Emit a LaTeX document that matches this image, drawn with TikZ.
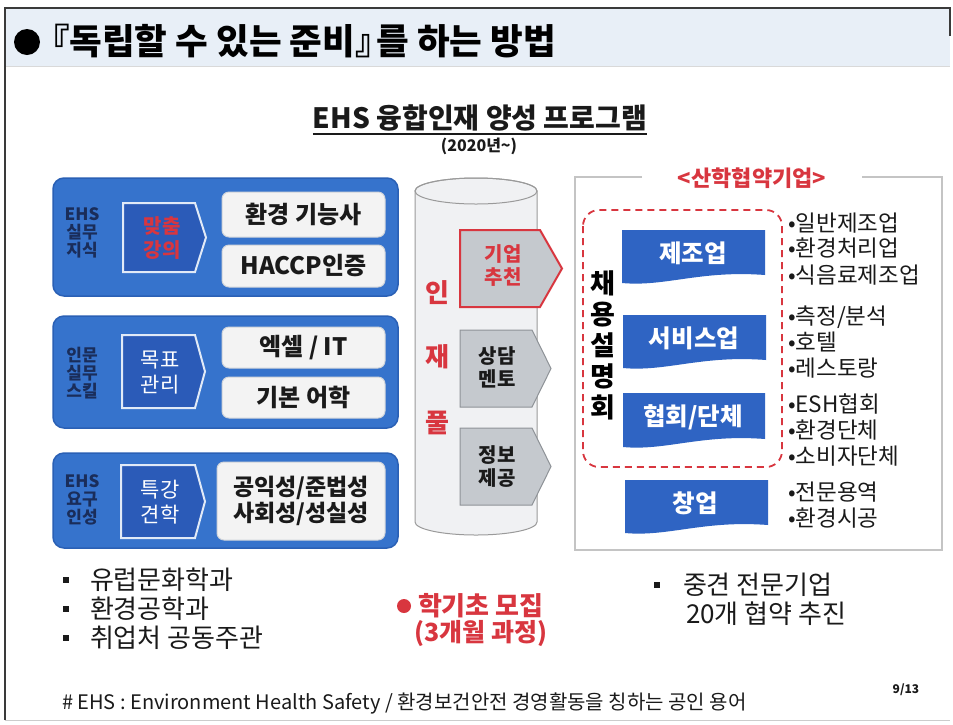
\documentclass[tikz,border=0pt]{standalone}
\usepackage{fontspec}
\setmainfont{Noto Sans CJK KR}
\usetikzlibrary{calc}
\definecolor{hdrband}{HTML}{E8EFF7}
\definecolor{framecol}{HTML}{3A3A3A}
\definecolor{panelblue}{HTML}{3673CC}
\definecolor{paneledge}{HTML}{2A60B5}
\definecolor{arrowblue}{HTML}{2B5BB8}
\definecolor{wbox}{HTML}{F3F3F3}
\definecolor{wedge}{HTML}{D0D4DA}
\definecolor{navy}{HTML}{1A2D5A}
\definecolor{cylfill}{HTML}{F0F1F3}
\definecolor{cyledge}{HTML}{9A9A9A}
\definecolor{pentfill}{HTML}{C5C9CE}
\definecolor{pentedge}{HTML}{8E9297}
\definecolor{redtxt}{HTML}{D8363F}
\definecolor{bannerblue}{HTML}{2F64C3}
\definecolor{rframe}{HTML}{C4C4C4}
\definecolor{txt}{HTML}{1A1A1A}
\newcommand\fsz[1]{\fontsize{#1}{#1}\selectfont}
\tikzset{
  panel/.style={fill=panelblue, draw=paneledge, line width=1.5pt, rounded corners=11pt},
  chev/.style={fill=arrowblue, draw=white!85!panelblue, line width=2pt},
  wboxst/.style={fill=wbox, draw=wedge, line width=1pt, rounded corners=7pt},
  pent/.style={fill=pentfill, draw=pentedge, line width=1pt},
  lbl/.style={font=\bfseries\fsz{17}, text=navy, align=center},
  wtxt/.style={font=\bfseries\fsz{24}, text=txt, align=center},
  chevtxt/.style={font=\fsz{21}, text=white, align=center},
  penttxt/.style={font=\bfseries\fsz{20}, text=txt, align=center},
  bantxt/.style={font=\bfseries\fsz{24.5}, text=white},
  rlist/.style={font=\fsz{22.5}, text=txt, anchor=west},
  blist/.style={font=\fsz{26}, text=txt, anchor=west},
  sq/.style={fill=txt, minimum size=6pt, inner sep=0pt},
}
\newcommand\mybanner[4]{%
  \fill[bannerblue] (#1,#2) -- (#3,#2) -- (#3,#4-8)
    .. controls ($(#1,#4)!0.55!(#3,#4)+(0,-13)$) and ($(#1,#4)!0.3!(#3,#4)+(0,4)$) .. (#1,#4) -- cycle;}
\begin{document}
\begin{tikzpicture}[x=1pt,y=-1pt, every node/.style={inner sep=0pt, outer sep=0pt}]
\useasboundingbox (0,0) rectangle (953,724);
\fill[white] (0,0) rectangle (953,724);
% header
\fill[hdrband] (5,9) rectangle (950,66);
\draw[black!15, line width=1pt] (5,66) -- (950,66);
\draw[framecol, line width=1.6pt] (5,720) -- (5,8) -- (950,8) -- (950,36);
\draw[black!20, line width=1pt] (5,720) -- (950,720);
\node[circle, fill=black, minimum size=26pt, inner sep=0pt] (tdot) at (27,42) {};
\node[anchor=west, font=\bfseries\fsz{35.5}, text=black] (title) at (50,41) {\hspace*{-0.45em}『독립할 수 있는 준비』\hspace{-0.4em}를 하는 방법};
% program title
\node[font=\bfseries\fsz{28}, text=txt] (prog) at (480,118) {EHS 융합인재 양성 프로그램};
\coordinate (ul) at (0,134);
\draw[txt, line width=1.5pt] (prog.west |- ul) -- (prog.east |- ul);
\node[font=\bfseries\fsz{16}, text=txt] (year) at (479,146) {(2020년\symbol{"7E})};
% ---------- left panels
\draw[panel] (53,178) rectangle (398,296);
\draw[panel] (53,316) rectangle (398,428);
\draw[panel] (53,453) rectangle (398,548);
\node[lbl] (l1) at (82,233) {EHS\\[1pt]실무\\[1pt]지식};
\node[lbl] (l2) at (82,373) {인문\\[1pt]실무\\[1pt]스킬};
\node[lbl] (l3) at (82,500) {EHS\\[1pt]요구\\[1pt]인성};
\draw[chev] (123,203) -- (195,203) -- (206,237.5) -- (195,272) -- (123,272) -- cycle;
\draw[chev] (122,335) -- (195,335) -- (205,371.5) -- (195,408) -- (122,408) -- cycle;
\draw[chev] (121,465) -- (195,465) -- (205,501.5) -- (195,538) -- (121,538) -- cycle;
\node[chevtxt, text=redtxt, font=\bfseries\fsz{20}] (c1) at (162,238) {맞춤\\[4pt]강의};
\node[chevtxt] (c2) at (160,373) {목표\\[4pt]관리};
\node[chevtxt] (c3) at (160,502) {특강\\[4pt]견학};
\draw[wboxst] (222,192) rectangle (385,237);
\draw[wboxst] (222,245) rectangle (385,287);
\draw[wboxst] (222,327) rectangle (385,368);
\draw[wboxst] (222,377) rectangle (385,418);
\draw[wboxst] (217,462) rectangle (385,540);
\node[wtxt] (w1) at (303.5,214.5) {환경 기능사};
\node[wtxt] (w2) at (303.5,266) {HACCP인증};
\node[wtxt] (w3) at (303.5,347.5) {엑셀 / IT};
\node[wtxt] (w4) at (303.5,397.5) {기본 어학};
\node[wtxt, font=\bfseries\fsz{23}] (w5) at (301,501) {공익성/준법성\\[2pt]사회성/성실성};
% ---------- cylinder
\draw[cyledge, fill=cylfill, line width=1pt] (415,191) -- (415,522)
   arc[start angle=180, end angle=0, x radius=61, y radius=13] -- (537,191)
   arc[start angle=0, end angle=-180, x radius=61, y radius=13] -- cycle;
\draw[cyledge, line width=1pt] (476,191) ellipse[x radius=61, y radius=13];
\node[font=\bfseries\fsz{26}, text=redtxt] (in) at (437,293) {인};
\node[font=\bfseries\fsz{26}, text=redtxt] (jae) at (437,357) {재};
\node[font=\bfseries\fsz{26}, text=redtxt] (pul) at (437,423) {풀};
\draw[pent, draw=redtxt, line width=2pt] (460,230) -- (540,230) -- (562,268.5) -- (540,307) -- (460,307) -- cycle;
\draw[pent] (460,330) -- (532,330) -- (551,368.5) -- (532,407) -- (460,407) -- cycle;
\draw[pent] (460,428) -- (532,428) -- (551,466.5) -- (532,505) -- (460,505) -- cycle;
\node[penttxt, text=redtxt] (p1) at (503,266) {기업\\[3pt]추천};
\node[penttxt] (p2) at (497,367) {상담\\[3pt]멘토};
\node[penttxt] (p3) at (497,467) {정보\\[3pt]제공};
% ---------- right frame
\draw[rframe, line width=2pt] (642,177) -- (575,177) -- (575,550) -- (942,550) -- (942,177) -- (862,177);
\node[font=\bfseries\fsz{22}, text=redtxt] (sanhak) at (752,178) {<산학협약기업>};
\draw[redtxt, line width=1.8pt, dash pattern=on 7pt off 5pt, rounded corners=16pt] (583,210) rectangle (782,467);
\node[font=\bfseries\fsz{27}, text=black, align=center] (chae) at (603,345) {채\\[4pt]용\\[4pt]설\\[4pt]명\\[4pt]회};
\mybanner{622}{230}{765}{283}
\mybanner{623}{315}{766}{368}
\mybanner{623}{393}{765}{447}
\mybanner{625}{480}{768}{533}
\node[bantxt] (b1) at (693,253) {제조업};
\node[bantxt] (b2) at (694,338) {서비스업};
\node[bantxt] (b3) at (693,417) {협회/단체};
\node[bantxt] (b4) at (695,503) {창업};
\node[rlist] (r1) at (788,223) {•일반제조업};
\node[rlist] (r2) at (788,248) {•환경처리업};
\node[rlist] (r3) at (788,275) {•식음료제조업};
\node[rlist] (r4) at (788,317) {•측정/분석};
\node[rlist] (r5) at (788,342) {•호텔};
\node[rlist] (r6) at (788,368) {•레스토랑};
\node[rlist] (r7) at (788,404) {•ESH협회};
\node[rlist] (r8) at (788,430) {•환경단체};
\node[rlist] (r9) at (788,456) {•소비자단체};
\node[rlist] (r10) at (788,492) {•전문용역};
\node[rlist] (r11) at (788,518) {•환경시공};
% ---------- bottom
\node[sq] (s1) at (66,580) {};
\node[sq] (s2) at (66,609) {};
\node[sq] (s3) at (66,638) {};
\node[blist] (t1) at (90,580) {유럽문화학과};
\node[blist] (t2) at (90,609) {환경공학과};
\node[blist] (t3) at (90,638) {취업처 공동주관};
\node[circle, fill=redtxt, minimum size=14pt, inner sep=0pt] (rdot) at (404,606) {};
\node[font=\bfseries\fsz{26}, text=redtxt, anchor=west] (mojip) at (418,606) {학기초 모집};
\node[font=\bfseries\fsz{25}, text=redtxt] (gwa) at (481,633) {(3개월 과정)};
\node[sq] (s4) at (657,585) {};
\node[blist] (t4) at (683,585) {중견 전문기업};
\node[blist] (t5) at (686,614) {20개 협약 추진};
\node[font=\fsz{20}, text=txt, anchor=west] (foot) at (62,703) {\# EHS : Environment Health Safety / 환경보건안전 경영활동을 칭하는 공인 용어};
\node[font=\bfseries\fsz{12}, text=txt] (page) at (906,690) {9/13};
\end{tikzpicture}
\end{document}
